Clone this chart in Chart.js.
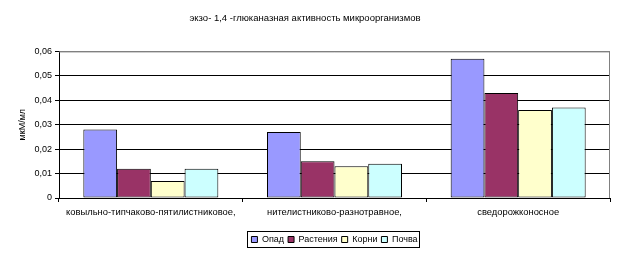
<!DOCTYPE html>
<html>
<head>
<meta charset="utf-8">
<script src="https://cdn.jsdelivr.net/npm/chart.js@4"></script>
<style>
  html, body { margin: 0; padding: 0; background: #fff; }
  canvas { display: block; }
</style>
</head>
<body>
<canvas id="myChart" width="623" height="256"></canvas>
<script>
// Datos
const categorias = ["ковыльно-типчаково-пятилистниковое,", "нителистниково-разнотравное,", "сведорожконосное"];
const opad = [0.028, 0.027, 0.057];
const rasteniya = [0.012, 0.015, 0.043];
const korni = [0.007, 0.013, 0.036];
const pochva = [0.012, 0.014, 0.037];
const yTicks = [0, 0.01, 0.02, 0.03, 0.04, 0.05, 0.06];

Chart.defaults.font.family = '"Liberation Sans", Arial, sans-serif';
Chart.defaults.color = '#000';

// Formato de número con coma
function tick_format(value) {
    if (value === 0) return '0';
    return value.toFixed(2).replace('.', ',');
}

// Marco del área y de la leyenda
const framePlugin = {
    id: 'frame',
    beforeDatasetsDraw(chart) {
        const a = chart.chartArea;
        const c = chart.ctx;
        c.save();
        c.strokeStyle = '#808080';
        c.lineWidth = 1;
        c.beginPath();
        c.moveTo(a.left, a.top + 0.5);
        c.lineTo(a.right - 0.5, a.top + 0.5);
        c.lineTo(a.right - 0.5, a.bottom);
        c.stroke();
        c.restore();
    },
    afterDraw(chart) {
        const boxes = chart.legend && chart.legend.legendHitBoxes;
        if (!boxes || !boxes.length) return;
        let l = Infinity, r = -Infinity, t = Infinity, b = -Infinity;
        boxes.forEach(h => {
            l = Math.min(l, h.left); r = Math.max(r, h.left + h.width);
            t = Math.min(t, h.top); b = Math.max(b, h.top + h.height);
        });
        const c = chart.ctx;
        c.save();
        c.strokeStyle = '#000';
        c.lineWidth = 1;
        c.strokeRect(Math.round(l) - 3.5, Math.round(t) - 3.5, Math.round(r - l) + 6, Math.round(b - t) + 7);
        c.restore();
    }
};

const ctx = document.getElementById("myChart").getContext('2d');
const myBarChart = new Chart(ctx, {
    type: 'bar',
    data: {
        labels: categorias,
        datasets: [
            { label: "Опад", data: opad, backgroundColor: "#9999FF" },
            { label: "Растения", data: rasteniya, backgroundColor: "#993366" },
            { label: "Корни", data: korni, backgroundColor: "#FFFFCC" },
            { label: "Почва", data: pochva, backgroundColor: "#CCFFFF" }
        ]
    },
    options: {
        responsive: false,
        animation: false,
        datasets: {
            bar: {
                borderColor: '#000',
                borderWidth: 1,
                borderSkipped: false,
                categoryPercentage: 0.735,
                barPercentage: 1
            }
        },
        layout: {
            padding: { left: 0, right: 13, top: 0, bottom: 2 }
        },
        scales: {
            x: {
                grid: {
                    offset: true,
                    drawOnChartArea: false,
                    color: '#000',
                    tickLength: 4
                },
                border: { color: '#000', width: 1 },
                ticks: {
                    font: { size: 9.4 },
                    padding: 5,
                    maxRotation: 0,
                    autoSkip: false
                },
                afterFit(scale) { scale.height = 33; }
            },
            y: {
                min: 0,
                max: 0.06,
                afterBuildTicks(scale) {
                    scale.ticks = yTicks.map(v => ({ value: v }));
                },
                grid: {
                    color: (c) => (c.tick && c.tick.value === 0.06) ? '#808080' : '#000',
                    tickColor: '#000',
                    tickLength: 4
                },
                border: { color: '#000', width: 1 },
                ticks: {
                    font: { size: 9 },
                    padding: 3,
                    callback: function (value) {
                        return tick_format(value);
                    }
                },
                title: {
                    display: true,
                    text: 'мкМ/мл',
                    font: { size: 9 },
                    padding: { top: 17, bottom: 0 }
                },
                afterFit(scale) { scale.width = 59; }
            }
        },
        plugins: {
            title: {
                display: true,
                text: 'экзо- 1,4 -глюканазная активность микроорганизмов',
                font: { size: 9.5, weight: 'normal' },
                color: '#000',
                padding: { top: 13, bottom: 27 }
            },
            legend: {
                position: 'bottom',
                fullSize: false,
                labels: {
                    boxWidth: 6,
                    boxHeight: 6,
                    padding: 4,
                    font: { size: 9 },
                    color: '#000'
                }
            },
            tooltip: { enabled: false }
        }
    },
    plugins: [framePlugin]
});
</script>
</body>
</html>
